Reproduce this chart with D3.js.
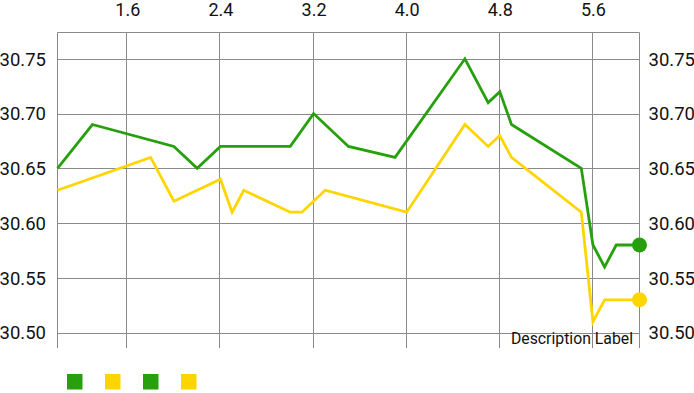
<!DOCTYPE html>
<html><head><meta charset="utf-8">
<script src="https://cdn.jsdelivr.net/npm/d3@7"></script>
<style>html,body{margin:0;padding:0;background:#fff;overflow:hidden}svg{display:block;font-family:Roboto,sans-serif}</style>
</head><body><svg id="c" width="694" height="393"></svg>
<script>
const greenX = [1.0, 1.3, 2.0, 2.2, 2.4, 3.0, 3.2, 3.5, 3.9, 4.5, 4.7, 4.8, 4.9, 5.5, 5.6, 5.7, 5.8, 6.0];
const greenY = [30.65, 30.69, 30.67, 30.65, 30.67, 30.67, 30.70, 30.67, 30.66, 30.75, 30.71, 30.72, 30.69, 30.65, 30.58, 30.56, 30.58, 30.58];
const yellowX = [1.0, 1.8, 2.0, 2.4, 2.5, 2.6, 3.0, 3.1, 3.3, 4.0, 4.5, 4.7, 4.8, 4.9, 5.5, 5.6, 5.7, 6.0];
const yellowY = [30.63, 30.66, 30.62, 30.64, 30.61, 30.63, 30.61, 30.61, 30.63, 30.61, 30.69, 30.67, 30.68, 30.66, 30.61, 30.51, 30.53, 30.53];
const xTicks = [1.6, 2.4, 3.2, 4.0, 4.8, 5.6];
const yTicks = [30.50, 30.55, 30.60, 30.65, 30.70, 30.75];
const legendColors = ["#26a00c", "#ffd500", "#26a00c", "#ffd500"];
const colors = {green: "#26a00c", yellow: "#ffd500"};

const svg = d3.select("#c");
const L = 57.5, R = 639.5, T = 32.5, B = 348;
const x = d3.scaleLinear().domain([1, 6]).range([L, R]);
const y = d3.scaleLinear().domain([30.486, 30.774]).range([B, T]);
const grid = "#8a8a8a";

// horizontal grid
svg.append("g").selectAll("line").data(yTicks).join("line")
  .attr("x1", L).attr("x2", R)
  .attr("y1", d => Math.round(y(d)) + 0.5).attr("y2", d => Math.round(y(d)) + 0.5)
  .attr("stroke", grid).attr("stroke-width", 1);
// vertical grid
svg.append("g").selectAll("line").data(xTicks).join("line")
  .attr("x1", d => Math.round(x(d)) - 0.5).attr("x2", d => Math.round(x(d)) - 0.5)
  .attr("y1", T).attr("y2", B)
  .attr("stroke", grid).attr("stroke-width", 1);
// axis lines: top, left, right
svg.append("line").attr("x1", L).attr("x2", R).attr("y1", T).attr("y2", T).attr("stroke", grid);
svg.append("line").attr("x1", L).attr("x2", L).attr("y1", T).attr("y2", B).attr("stroke", grid);
svg.append("line").attr("x1", R).attr("x2", R).attr("y1", T).attr("y2", B).attr("stroke", grid);

// top x axis labels
const xAxis = d3.axisTop(x).tickValues(xTicks).tickFormat(d3.format(".1f")).tickSize(0);
const gx = svg.append("g").attr("transform", `translate(0,${T - 13.5})`).call(xAxis);
gx.select(".domain").remove();
gx.selectAll("text").attr("font-size", 18).attr("fill", "#111").attr("font-family", "Roboto").attr("dy", 0);

// left y axis labels
const yL = d3.axisLeft(y).tickValues(yTicks).tickFormat(d3.format(".2f")).tickSize(0);
const gyl = svg.append("g").attr("transform", `translate(${L - 11.5},0)`).call(yL);
gyl.select(".domain").remove();
gyl.selectAll("text").attr("font-size", 18.5).attr("fill", "#111").attr("font-family", "Roboto").attr("dy", "0.34em").attr("x", 0);

// right y axis labels
const yR = d3.axisRight(y).tickValues(yTicks).tickFormat(d3.format(".2f")).tickSize(0);
const gyr = svg.append("g").attr("transform", `translate(${R + 9},0)`).call(yR);
gyr.select(".domain").remove();
gyr.selectAll("text").attr("font-size", 18.5).attr("fill", "#111").attr("font-family", "Roboto").attr("dy", "0.34em").attr("x", 0);

// lines
const line = d3.line().x(d => x(d[0])).y(d => y(d[1]));
const series = [
  {xs: greenX, ys: greenY, c: colors.green},
  {xs: yellowX, ys: yellowY, c: colors.yellow}
];
series.forEach(s => {
  const pts = s.xs.map((v, i) => [v, s.ys[i]]);
  svg.append("path").datum(pts).attr("d", line)
    .attr("fill", "none").attr("stroke", s.c).attr("stroke-width", 2.8)
    .attr("stroke-linejoin", "miter");
  const last = pts[pts.length - 1];
  svg.append("circle").attr("cx", x(last[0])).attr("cy", y(last[1])).attr("r", 7.5).attr("fill", s.c);
});

// description
svg.append("text").attr("x", R - 6.5).attr("y", 343.5).attr("text-anchor", "end")
  .attr("font-size", 15.8).attr("fill", "#111").text("Description Label");

// legend
svg.append("g").selectAll("rect").data(legendColors).join("rect")
  .attr("x", (d, i) => 67 + i * 38).attr("y", 374).attr("width", 15.5).attr("height", 15.5)
  .attr("fill", d => d);
</script></body></html>
